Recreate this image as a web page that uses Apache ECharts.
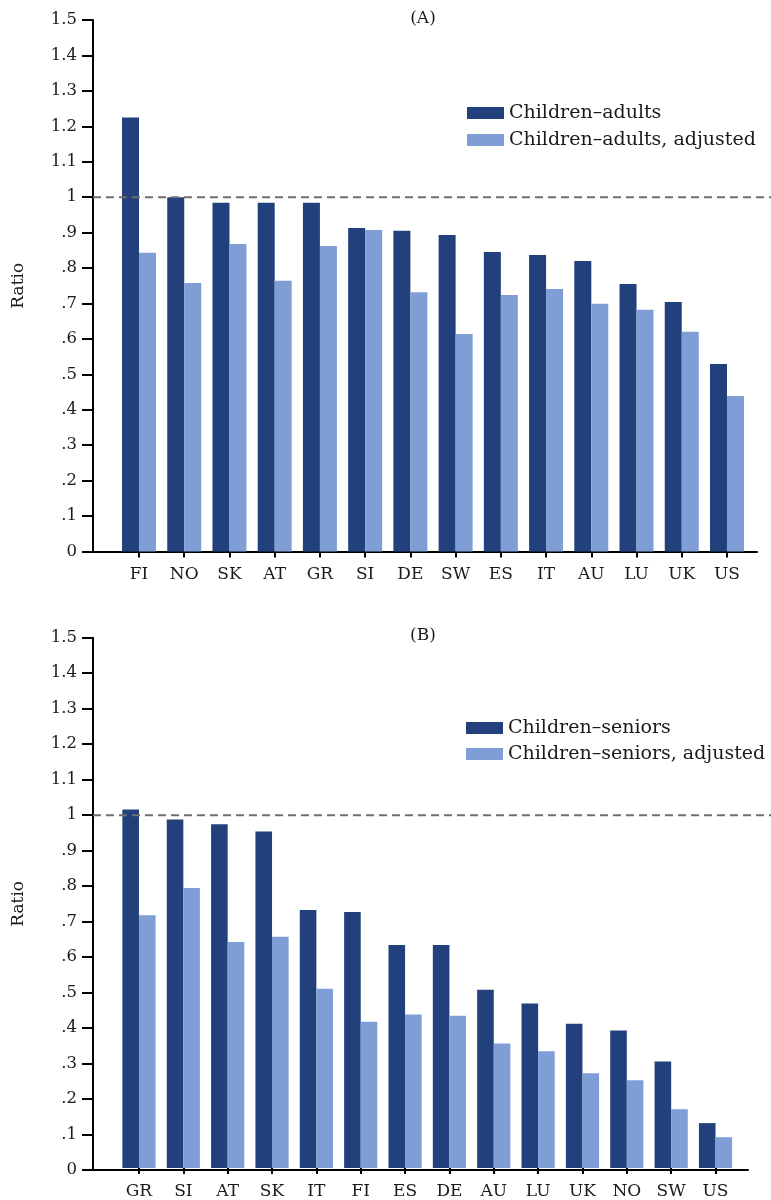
<!DOCTYPE html>
<html>
<head>
<meta charset="utf-8">
<script src="https://cdn.jsdelivr.net/npm/echarts@6/dist/echarts.min.js"></script>
<style>
  html, body { margin: 0; padding: 0; background: #fff; }
  #chart { width: 771px; height: 1200px; }
</style>
</head>
<body>
<div id="chart"></div>
<script>
// ---- Data ----
const categoriesA = ['FI','NO','SK','AT','GR','SI','DE','SW','ES','IT','AU','LU','UK','US'];
const childrenAdults =         [1.225, 1.000, 0.984, 0.984, 0.984, 0.913, 0.905, 0.893, 0.845, 0.837, 0.820, 0.755, 0.704, 0.529];
const childrenAdultsAdjusted = [0.843, 0.758, 0.868, 0.764, 0.862, 0.907, 0.732, 0.614, 0.724, 0.741, 0.699, 0.682, 0.620, 0.439];

const categoriesB = ['GR','SI','AT','SK','IT','FI','ES','DE','AU','LU','UK','NO','SW','US'];
const childrenSeniors =         [1.014, 0.986, 0.972, 0.952, 0.730, 0.724, 0.631, 0.631, 0.504, 0.465, 0.408, 0.389, 0.301, 0.127];
const childrenSeniorsAdjusted = [0.715, 0.792, 0.639, 0.654, 0.507, 0.414, 0.434, 0.431, 0.352, 0.330, 0.268, 0.248, 0.166, 0.087];

const yTickLabels = ['0','.1','.2','.3','.4','.5','.6','.7','.8','.9','1','1.1','1.2','1.3','1.4','1.5'];
const referenceValue = 1;
const panelTitles = ['(A)', '(B)'];
const seriesNamesA = ['Children\u2013adults', 'Children\u2013adults, adjusted'];
const seriesNamesB = ['Children\u2013seniors', 'Children\u2013seniors, adjusted'];

// ---- Styles ----
const FONT = '"DejaVu Serif", "Liberation Serif", serif';
const DARK = '#22407C';
const LIGHT = '#7F9ED6';
const TXT = '#1a1a1a';

const chart = echarts.init(document.getElementById('chart'), null, { renderer: 'canvas' });

function yAxisVisible(gridIndex) {
  return {
    gridIndex, type: 'value', min: 0, max: 1.5, interval: 0.1,
    name: 'Ratio', nameLocation: 'middle', nameGap: 66,
    nameTextStyle: { fontFamily: FONT, fontSize: 17, color: TXT },
    axisLine: { show: true, lineStyle: { color: '#000', width: 2 } },
    axisTick: { show: true, length: 11, lineStyle: { color: '#000', width: 2 } },
    axisLabel: {
      margin: 16, fontFamily: FONT, fontSize: 16.5, color: TXT,
      formatter: v => yTickLabels[Math.round(v * 10)]
    },
    splitLine: { show: false }
  };
}
function yAxisHidden(gridIndex) {
  return { gridIndex, type: 'value', min: 0, max: 1.5, show: false, splitLine: { show: false } };
}
function xAxisLineOnly(gridIndex) {
  return {
    gridIndex, type: 'value', min: 0, max: 1,
    axisLine: { show: true, onZero: false, lineStyle: { color: '#000', width: 2 } },
    axisTick: { show: false }, axisLabel: { show: false }, splitLine: { show: false }
  };
}
function xAxisHidden(gridIndex) {
  return { gridIndex, type: 'value', min: 0, max: 1, show: false, splitLine: { show: false } };
}
function xAxisCat(gridIndex, cats) {
  return {
    gridIndex, type: 'category', data: cats,
    axisLine: { show: false },
    axisTick: { show: true, alignWithLabel: true, length: 6, lineStyle: { color: '#000', width: 2 } },
    axisLabel: { margin: 15, fontFamily: FONT, fontSize: 17, color: TXT },
    splitLine: { show: false }
  };
}
function refLine(axisIdx) {
  return {
    type: 'line', xAxisIndex: axisIdx, yAxisIndex: axisIdx,
    data: [[0, referenceValue], [1, referenceValue]],
    symbol: 'none', silent: true,
    lineStyle: { color: '#6f6f6f', width: 2, type: [8, 5] },
    z: 5
  };
}
function bar(name, data, axisIdx, color, width) {
  return {
    type: 'bar', name, data, xAxisIndex: axisIdx, yAxisIndex: axisIdx,
    barWidth: width, barGap: '0%', itemStyle: { color }, z: 2
  };
}

const topA = 20, hA = 531.5;
const topB = 637.7, hB = 532.3;

const legendText = { fontFamily: FONT, fontSize: 19, color: TXT, lineHeight: 20, padding: [0, 0, 0, 0] };

const option = {
  animation: false,
  backgroundColor: '#fff',
  title: [
    { text: panelTitles[0], left: 418, top: 5, textAlign: 'center',
      textStyle: { fontFamily: FONT, fontSize: 17, fontWeight: 'normal', color: TXT } },
    { text: panelTitles[1], left: 418, top: 622, textAlign: 'center',
      textStyle: { fontFamily: FONT, fontSize: 17, fontWeight: 'normal', color: TXT } }
  ],
  legend: [
    { data: seriesNamesA, orient: 'vertical', left: 462, top: 98, itemWidth: 37, itemHeight: 12,
      itemGap: 7, icon: 'rect', selectedMode: false, textStyle: legendText },
    { data: seriesNamesB, orient: 'vertical', left: 461, top: 713, itemWidth: 37, itemHeight: 12,
      itemGap: 6, icon: 'rect', selectedMode: false, textStyle: legendText }
  ],
  grid: [
    { left: 93, width: 664, top: topA, height: hA },      // 0 axes A
    { left: 116.4, width: 633.2, top: topA, height: hA }, // 1 data A
    { left: 93, width: 678, top: topA, height: hA },      // 2 ref A
    { left: 93, width: 655, top: topB, height: hB },      // 3 axes B
    { left: 116.8, width: 620.9, top: topB, height: hB }, // 4 data B
    { left: 93, width: 678, top: topB, height: hB }       // 5 ref B
  ],
  xAxis: [
    xAxisLineOnly(0), xAxisCat(1, categoriesA), xAxisHidden(2),
    xAxisLineOnly(3), xAxisCat(4, categoriesB), xAxisHidden(5)
  ],
  yAxis: [
    yAxisVisible(0), yAxisHidden(1), yAxisHidden(2),
    yAxisVisible(3), yAxisHidden(4), yAxisHidden(5)
  ],
  series: [
    bar(seriesNamesA[0], childrenAdults, 1, DARK, 17),
    bar(seriesNamesA[1], childrenAdultsAdjusted, 1, LIGHT, 17),
    refLine(2),
    bar(seriesNamesB[0], childrenSeniors, 4, DARK, 16.6),
    bar(seriesNamesB[1], childrenSeniorsAdjusted, 4, LIGHT, 16.6),
    refLine(5)
  ]
};
chart.setOption(option);
</script>
</body>
</html>
